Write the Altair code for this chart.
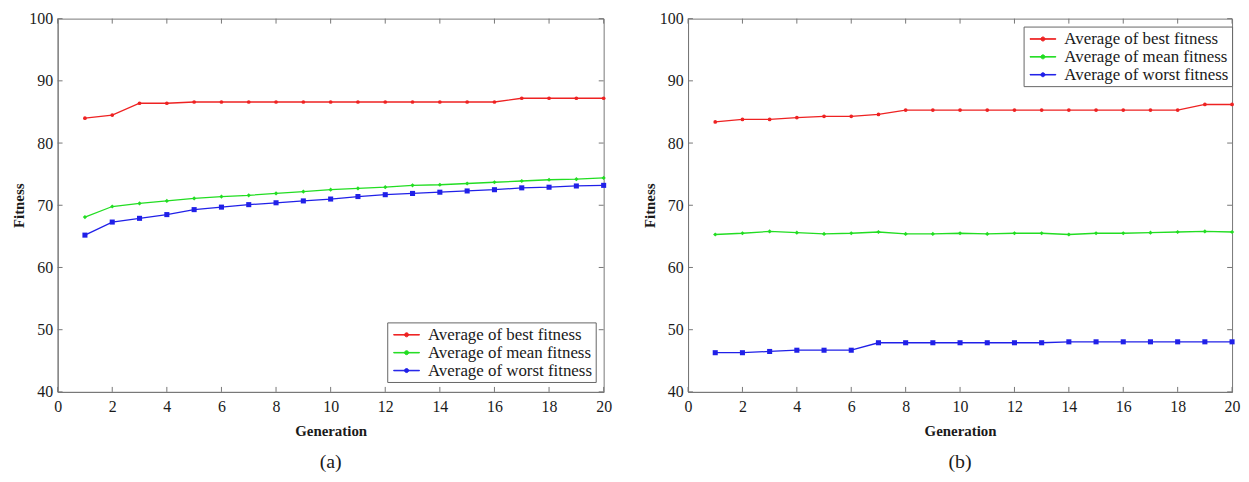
import altair as alt
import pandas as pd

generations = list(range(1, 21))
series_names = ["Average of best fitness", "Average of mean fitness", "Average of worst fitness"]
colors = ["#ee2222", "#22dd22", "#2020e8"]
marker_shapes = ["circle", "diamond", "square"]
marker_sizes = [14, 18, 26]

a_best = [84.0, 84.5, 86.4, 86.4, 86.6, 86.6, 86.6, 86.6, 86.6, 86.6,
          86.6, 86.6, 86.6, 86.6, 86.6, 86.6, 87.2, 87.2, 87.2, 87.2]
a_mean = [68.1, 69.8, 70.3, 70.7, 71.1, 71.4, 71.6, 71.9, 72.2, 72.5,
          72.7, 72.9, 73.2, 73.3, 73.5, 73.7, 73.9, 74.1, 74.2, 74.4]
a_worst = [65.2, 67.3, 67.9, 68.5, 69.3, 69.7, 70.1, 70.4, 70.7, 71.0,
           71.4, 71.7, 71.9, 72.1, 72.3, 72.5, 72.8, 72.9, 73.1, 73.2]

b_best = [83.4, 83.8, 83.8, 84.1, 84.3, 84.3, 84.6, 85.3, 85.3, 85.3,
          85.3, 85.3, 85.3, 85.3, 85.3, 85.3, 85.3, 85.3, 86.2, 86.2]
b_mean = [65.3, 65.5, 65.8, 65.6, 65.4, 65.5, 65.7, 65.4, 65.4, 65.5,
          65.4, 65.5, 65.5, 65.3, 65.5, 65.5, 65.6, 65.7, 65.8, 65.7]
b_worst = [46.3, 46.3, 46.5, 46.7, 46.7, 46.7, 47.9, 47.9, 47.9, 47.9,
           47.9, 47.9, 47.9, 48.05, 48.05, 48.05, 48.05, 48.05, 48.05, 48.05]

x_ticks = list(range(0, 21, 2))
y_ticks = list(range(40, 101, 10))

FONT = "Liberation Serif"
AXIS_COLOR = "#777777"
TEXT_COLOR = "#1a1a1a"


def long_df(best, mean, worst):
    rows = []
    for name, vals in zip(series_names, [best, mean, worst]):
        for g, v in zip(generations, vals):
            rows.append({"Generation": g, "Fitness": v, "Series": name})
    return pd.DataFrame(rows)


# legend glyph: a thin bar (the line) with a small dot in its middle
legend_symbol = ("M-0.67,-0.03H2.22V0.03H-0.67Z"
                 "M0.55,0A0.22,0.22,0,1,1,1.0,0A0.22,0.22,0,1,1,0.55,0Z")
color_expr = " : ".join(
    f"datum.value === '{n}' ? '{c}'" for n, c in zip(series_names, colors)
) + " : '#000'"


def panel(df, caption, lx, ly, width):
    xs = alt.Scale(domain=[0, 20], nice=False)
    ys = alt.Scale(domain=[40, 100], nice=False)
    color = alt.Color(
        "Series:N",
        scale=alt.Scale(domain=series_names, range=colors),
        legend=alt.Legend(
            title=None, orient="none", legendX=lx, legendY=ly,
            symbolType=legend_symbol, symbolSize=324, symbolStrokeWidth=1,
            symbolStrokeColor=alt.ExprRef(expr=color_expr),
            symbolFillColor=alt.ExprRef(expr=color_expr),
            strokeColor="#666666", fillColor="white", padding=3,
            rowPadding=0, labelOffset=19, labelLimit=400,
        ),
    )
    base = alt.Chart(df)
    x_enc = alt.X("Generation:Q", scale=xs,
                  axis=alt.Axis(values=x_ticks, title="Generation", labelFlush=False))
    y_enc = alt.Y("Fitness:Q", scale=ys,
                  axis=alt.Axis(values=y_ticks, title="Fitness", titleX=-31, labelFlush=False))
    line = base.mark_line(strokeWidth=1.3).encode(x=x_enc, y=y_enc, color=color)
    point_layers = []
    for name, c, shp, sz in zip(series_names, colors, marker_shapes, marker_sizes):
        point_layers.append(
            base.transform_filter(alt.datum.Series == name).mark_point(
                filled=True, opacity=1, strokeWidth=0, color=c, shape=shp, size=sz
            ).encode(
                x=alt.X("Generation:Q", scale=xs),
                y=alt.Y("Fitness:Q", scale=ys),
            )
        )
    # inward tick marks drawn through the scales
    xt = pd.DataFrame({"t": x_ticks})
    yt = pd.DataFrame({"t": y_ticks})
    tk = dict(color=AXIS_COLOR, strokeWidth=1)
    bx = alt.Chart(xt).mark_rule(**tk).encode(x=alt.X("t:Q", scale=xs), y=alt.Y(datum=40, scale=ys), y2=alt.Y2(datum=40.8))
    tx = alt.Chart(xt).mark_rule(**tk).encode(x=alt.X("t:Q", scale=xs), y=alt.Y(datum=100, scale=ys), y2=alt.Y2(datum=99.2))
    ly_ = alt.Chart(yt).mark_rule(**tk).encode(y=alt.Y("t:Q", scale=ys), x=alt.X(datum=0, scale=xs), x2=alt.X2(datum=0.18))
    ry = alt.Chart(yt).mark_rule(**tk).encode(y=alt.Y("t:Q", scale=ys), x=alt.X(datum=20, scale=xs), x2=alt.X2(datum=19.82))
    ch = alt.layer(line, *point_layers, bx, tx, ly_, ry).properties(
        width=width, height=376,
        title=alt.TitleParams(caption, orient="bottom", font=FONT, fontSize=20,
                              fontWeight="normal", color=TEXT_COLOR, offset=14),
    )
    return ch


left = panel(long_df(a_best, a_mean, a_worst), "(a)", 332, 306, 550)
right = panel(long_df(b_best, b_mean, b_worst), "(b)", 338, 8, 548)

chart = alt.hconcat(left, right, spacing=29).resolve_legend(color="independent").resolve_scale(
    color="independent"
).configure(
    padding={"left": 3, "top": 0, "right": 0, "bottom": 0}
).configure_view(
    stroke=AXIS_COLOR, strokeWidth=1
).configure_axis(
    tickSize=0, grid=False, domainColor=AXIS_COLOR, minExtent=0,
    labelFont=FONT, labelFontSize=16, labelColor=TEXT_COLOR,
    titleFont=FONT, titleFontSize=15, titleFontWeight="bold", titleColor=TEXT_COLOR,
).configure_axisX(labelPadding=7, titlePadding=9).configure_axisY(
    labelPadding=5
).configure_legend(
    labelFont=FONT, labelFontSize=17, labelColor=TEXT_COLOR,
)

chart.save("out.html", embed_options={"renderer": "svg", "actions": False})
